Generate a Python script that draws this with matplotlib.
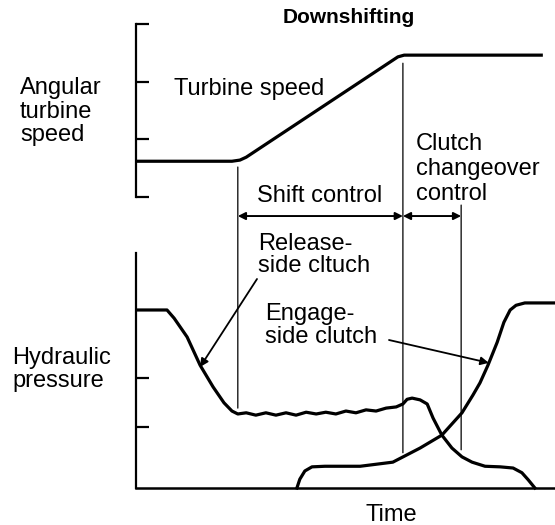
import matplotlib
matplotlib.use("Agg")
import matplotlib.pyplot as plt
from matplotlib.patches import ConnectionPatch

plt.rcParams.update({
    "font.family": ["Liberation Sans", "DejaVu Sans"],
    "font.size": 17,
})

# Turbine speed (time, speed level)
turb_t = [0.0, 2.29, 2.48, 2.63, 6.25, 6.40, 6.54, 9.71]
turb_s = [0.62, 0.62, 0.64, 0.69, 2.43, 2.46, 2.46, 2.46]

# Release-side clutch pressure
rel_t = [0.02, 0.74, 0.91, 1.22, 1.53, 1.84, 2.10, 2.29, 2.43,
         2.63, 2.86, 3.10, 3.34, 3.58, 3.82, 4.06, 4.30, 4.53, 4.77,
         5.01, 5.25, 5.49, 5.73, 5.97, 6.21, 6.37,
         6.47, 6.59, 6.78, 6.95, 7.09, 7.30, 7.54, 7.78, 8.02, 8.33,
         8.69, 9.00, 9.21, 9.36, 9.52]
rel_p = [3.03, 3.03, 2.89, 2.57, 2.09, 1.72, 1.45, 1.31, 1.26,
         1.28, 1.24, 1.28, 1.24, 1.28, 1.24, 1.29, 1.26, 1.29, 1.26,
         1.31, 1.28, 1.33, 1.31, 1.36, 1.38, 1.43,
         1.51, 1.53, 1.50, 1.43, 1.19, 0.90, 0.68, 0.53, 0.44, 0.37,
         0.36, 0.34, 0.26, 0.14, 0.00]

# Engage-side clutch pressure
eng_t = [3.84, 3.91, 4.03, 4.20, 4.51, 5.35, 6.13, 6.78, 7.30, 7.78,
         8.04, 8.21, 8.40, 8.62, 8.78, 8.93, 9.07, 9.28, 10.0]
eng_p = [0.00, 0.15, 0.29, 0.36, 0.37, 0.37, 0.44, 0.68, 0.90, 1.28,
         1.58, 1.79, 2.09, 2.48, 2.82, 3.03, 3.11, 3.15, 3.15]

# phase boundaries
t_shift_start = 2.43
t_shift_end = 6.37
t_change_end = 7.76

W, H = 555, 525
fig = plt.figure(figsize=(W / 100, H / 100), dpi=100)


def px_axes(x0, y_top, y_bot):
    return fig.add_axes([x0 / W, 1 - y_bot / H, (W - x0) / W, (y_bot - y_top) / H])


# ── upper panel: turbine speed ──
ax_top = px_axes(136, 24, 197)
ax_top.set_xlim(0, 10)
ax_top.set_ylim(0, 3)
ax_top.plot(turb_t, turb_s, color="black", lw=2.3, solid_capstyle="butt",
            solid_joinstyle="round", clip_on=False)
for s in ("top", "right", "bottom"):
    ax_top.spines[s].set_visible(False)
ax_top.spines["left"].set_linewidth(1.6)
ax_top.set_xticks([])
ax_top.set_yticks([0, 1, 2, 3])
ax_top.tick_params(axis="y", direction="in", length=9.5, width=1.6, labelleft=False)
ax_top.patch.set_visible(False)

# ── lower panel: hydraulic pressure ──
ax_bot = px_axes(136, 253, 488)
ax_bot.set_xlim(0, 10)
ax_bot.set_ylim(0, 4)
ax_bot.plot(rel_t, rel_p, color="black", lw=2.3, solid_joinstyle="round", clip_on=False)
ax_bot.plot(eng_t, eng_p, color="black", lw=2.3, solid_joinstyle="round", clip_on=False)
for s in ("top", "right"):
    ax_bot.spines[s].set_visible(False)
ax_bot.spines["left"].set_linewidth(1.6)
ax_bot.spines["bottom"].set_linewidth(1.8)
ax_bot.set_xticks([])
ax_bot.set_yticks([1.04, 1.87])
ax_bot.tick_params(axis="y", direction="in", length=9.5, width=1.6, labelleft=False)
ax_bot.patch.set_visible(False)

# vertical markers running through both panels
for t, s_top, p_bot in [(t_shift_start, 0.52, 1.36),
                        (t_shift_end, 2.32, 0.60),
                        (t_change_end, -0.14, 0.65)]:
    con = ConnectionPatch(xyA=(t, s_top), coordsA=ax_top.transData,
                          xyB=(t, p_bot), coordsB=ax_bot.transData,
                          color="black", lw=0.9)
    fig.add_artist(con)

# shift control / changeover spans
arrow_y = -0.33
span_props = dict(arrowstyle="<|-|>", color="black", lw=1.4,
                  shrinkA=0, shrinkB=0, mutation_scale=11)
ax_top.annotate("", xy=(t_shift_end, arrow_y), xytext=(t_shift_start, arrow_y),
                arrowprops=span_props, annotation_clip=False)
ax_top.annotate("", xy=(t_change_end, arrow_y), xytext=(t_shift_end, arrow_y),
                arrowprops=span_props, annotation_clip=False)

# ── text layer in pixel units ──
ax_txt = fig.add_axes([0, 0, 1, 1])
ax_txt.set_xlim(0, W)
ax_txt.set_ylim(H, 0)
ax_txt.axis("off")


def label(x, y0, lines, step=23.5, **kw):
    for i, line in enumerate(lines):
        ax_txt.text(x, y0 + i * step, line, va="baseline", ha="left", **kw)


ax_txt.text(349, 23, "Downshifting", ha="center", va="baseline",
            fontweight="bold", fontsize=15)
label(20, 94, ["Angular", "turbine", "speed"])
label(174, 95, ["Turbine speed"])
label(257, 202, ["Shift control"])
label(416, 150, ["Clutch", "changeover", "control"], step=25)
label(258, 250, ["Release-", "side cltuch"], step=22)
label(265, 320, ["Engage-", "side clutch"], step=23)
label(12, 364, ["Hydraulic", "pressure"], step=22.5)
ax_txt.text(391, 521, "Time", ha="center", va="baseline")

pointer = dict(arrowstyle="-|>", color="black", lw=1.3, shrinkA=0, shrinkB=0,
               mutation_scale=12)
ax_txt.annotate("", xy=(1.53, 2.06), xycoords=ax_bot.transData,
                xytext=(257, 279), textcoords=ax_txt.transData, arrowprops=pointer)
ax_txt.annotate("", xy=(8.42, 2.13), xycoords=ax_bot.transData,
                xytext=(389, 340), textcoords=ax_txt.transData, arrowprops=pointer)

fig.savefig("out.png", dpi=100)
